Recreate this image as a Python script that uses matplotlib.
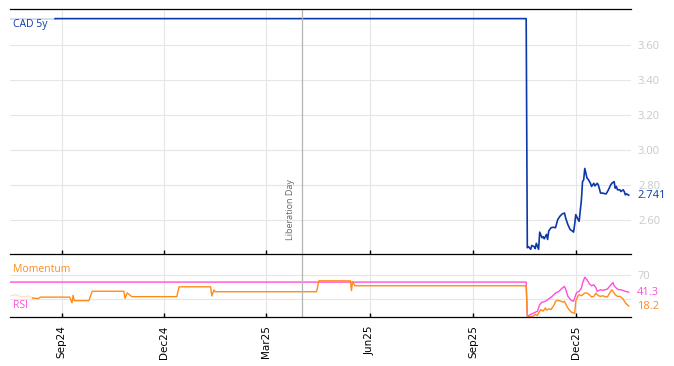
import pandas as pd
import matplotlib.pyplot as plt
import matplotlib.dates as mdates
import matplotlib.transforms as mtransforms

# CAD 5y yield
cad_dates = ['2024-07-17', '2024-08-26', '2025-10-18',
             '2025-10-19', '2025-10-20', '2025-10-22', '2025-10-23', '2025-10-25', '2025-10-26',
             '2025-10-27', '2025-10-29', '2025-10-30', '2025-11-01', '2025-11-02', '2025-11-03',
             '2025-11-05', '2025-11-06', '2025-11-07', '2025-11-09', '2025-11-11', '2025-11-13',
             '2025-11-15', '2025-11-17', '2025-11-19', '2025-11-21', '2025-11-22', '2025-11-24',
             '2025-11-26', '2025-11-28', '2025-11-29', '2025-11-30', '2025-12-01', '2025-12-03',
             '2025-12-04', '2025-12-06', '2025-12-07', '2025-12-08', '2025-12-09', '2025-12-11',
             '2025-12-12', '2025-12-14', '2025-12-15', '2025-12-17', '2025-12-18', '2025-12-20',
             '2025-12-21', '2025-12-23', '2025-12-25', '2025-12-27', '2025-12-28', '2025-12-30',
             '2026-01-01', '2026-01-02', '2026-01-04', '2026-01-05', '2026-01-06', '2026-01-07',
             '2026-01-09', '2026-01-10', '2026-01-12', '2026-01-13', '2026-01-14', '2026-01-15',
             '2026-01-17']
cad_values = [3.75, 3.75, 3.75,
              2.441, 2.447, 2.432, 2.454, 2.447, 2.436,
              2.466, 2.432, 2.530, 2.498, 2.504, 2.492,
              2.517, 2.488, 2.536, 2.555, 2.558, 2.555,
              2.602, 2.621, 2.634, 2.639, 2.611, 2.573,
              2.545, 2.536, 2.530, 2.573, 2.630, 2.602,
              2.592, 2.715, 2.819, 2.828, 2.894, 2.838,
              2.832, 2.809, 2.791, 2.809, 2.794, 2.809,
              2.800, 2.753, 2.753, 2.749, 2.749, 2.772,
              2.800, 2.809, 2.819, 2.781, 2.791, 2.772,
              2.772, 2.762, 2.772, 2.762, 2.743, 2.749,
              2.741]
cad_fade_until = '2024-08-26'

rsi_dates = ['2024-07-17', '2025-10-18',
             '2025-10-19', '2025-10-22', '2025-10-25', '2025-10-28', '2025-10-30', '2025-11-01',
             '2025-11-04', '2025-11-07', '2025-11-10', '2025-11-13', '2025-11-16', '2025-11-19',
             '2025-11-21', '2025-11-22', '2025-11-24', '2025-11-27', '2025-11-29', '2025-12-01',
             '2025-12-02', '2025-12-04', '2025-12-06', '2025-12-07', '2025-12-09', '2025-12-11',
             '2025-12-13', '2025-12-15', '2025-12-17', '2025-12-19', '2025-12-20', '2025-12-23',
             '2025-12-25', '2025-12-27', '2025-12-29', '2025-12-31', '2026-01-03', '2026-01-04',
             '2026-01-06', '2026-01-08', '2026-01-10', '2026-01-12', '2026-01-14', '2026-01-17']
rsi_values = [58, 58,
              1.4, 4.2, 6.9, 9.7, 20.6, 24.5,
              26.1, 30.0, 34.3, 39.8, 42.6, 48.1,
              50.8, 46.4, 34.3, 27.8, 26.1, 37.1,
              40.9, 42.6, 48.1, 56.3, 66.2, 61.8,
              55.2, 51.9, 53.5, 48.1, 42.6, 45.3,
              44.2, 45.3, 46.4, 50.8, 57.4, 51.9,
              48.1, 45.3, 45.3, 44.2, 42.6, 41.3]

mom_dates = ['2024-07-17', '2024-07-22', '2024-07-26', '2024-07-31', '2024-08-03', '2024-08-06',
             '2024-08-11', '2024-08-13', '2024-09-08', '2024-09-10', '2024-09-11', '2024-09-12',
             '2024-09-25', '2024-09-28', '2024-10-26', '2024-10-27', '2024-10-29', '2024-11-02',
             '2024-12-12', '2024-12-14', '2025-01-11', '2025-01-12', '2025-01-14', '2025-01-15',
             '2025-04-15', '2025-04-17', '2025-05-15', '2025-05-16', '2025-05-17', '2025-05-19',
             '2025-10-18',
             '2025-10-19', '2025-10-21', '2025-10-24', '2025-10-26', '2025-10-28', '2025-10-29',
             '2025-10-31', '2025-11-02', '2025-11-04', '2025-11-05', '2025-11-07', '2025-11-09',
             '2025-11-12', '2025-11-13', '2025-11-15', '2025-11-18', '2025-11-20', '2025-11-21',
             '2025-11-23', '2025-11-25', '2025-11-27', '2025-11-29', '2025-11-30', '2025-12-01',
             '2025-12-03', '2025-12-04', '2025-12-06', '2025-12-09', '2025-12-11', '2025-12-13',
             '2025-12-15', '2025-12-17', '2025-12-19', '2025-12-21', '2025-12-23', '2025-12-25',
             '2025-12-26', '2025-12-29', '2025-12-31', '2026-01-02', '2026-01-03', '2026-01-05',
             '2026-01-07', '2026-01-09', '2026-01-10', '2026-01-12', '2026-01-14', '2026-01-17']
mom_values = [35, 37, 34, 33.5, 35, 31.6,
              30.5, 33, 33, 23.4, 36, 27.2,
              27.2, 42.8, 42.8, 31, 40, 33.8,
              33.8, 50.2, 50.2, 35, 45, 42,
              42, 60.1, 60.1, 44, 59, 51.9,
              51.9,
              1.4, 0.3, 1.4, 4.2, 2.5, 6.9,
              12.4, 9.7, 15.1, 11.3, 13.5, 12.4,
              20.6, 26.1, 27.8, 26.1, 24.5, 26.1,
              17.9, 12.4, 8.0, 6.9, 5.8, 26.1,
              35.4, 37.1, 35.4, 39.8, 39.8, 37.1,
              33.2, 34.3, 39.8, 35.4, 34.3, 35.4,
              34.3, 33.2, 39.8, 45.3, 42.6, 37.1,
              34.3, 34.3, 33.2, 30.0, 23.4, 18.2]
mom_fade_until = '2024-08-06'

event_date = '2025-04-02'
event_label = 'Liberation Day'

blue = '#0b3aa8'
orange = '#ff8c1a'
magenta = '#ff4fd8'
gridc = '#e6e6e6'
labc = '#c8c8c8'

cad = pd.Series(cad_values, index=pd.to_datetime(cad_dates))
rsi = pd.Series(rsi_values, index=pd.to_datetime(rsi_dates))
mom = pd.Series(mom_values, index=pd.to_datetime(mom_dates))

fig = plt.figure(figsize=(6.74, 3.66), dpi=100)
ax2 = fig.add_axes([10 / 674, 1 - 317 / 366, 621 / 674, 62 / 366])
ax = fig.add_axes([10 / 674, 1 - 254 / 366, 621 / 674, 245 / 366], sharex=ax2)
ax.patch.set_alpha(0)

# top panel
c_f = cad[:cad_fade_until]
c_s = cad[cad_fade_until:]
ax.plot(c_f.index, c_f.values, color=blue, lw=1.2, alpha=0.2)
ax.plot(c_s.index, c_s.values, color=blue, lw=1.2)
ax.set_ylim(2.405, 3.805)
ax.set_yticks([2.6, 2.8, 3.0, 3.2, 3.4, 3.6])
ax.yaxis.set_major_formatter(plt.FormatStrFormatter('%.2f'))

# bottom panel
ax2.plot(rsi.index, rsi.values, color=magenta, lw=1.0)
m_f = mom[:mom_fade_until]
m_s = mom[mom_fade_until:]
ax2.plot(m_f.index, m_f.values, color=orange, lw=1.0, alpha=0.25)
ax2.plot(m_s.index, m_s.values, color=orange, lw=1.0)
ax2.set_ylim(0, 103)
ax2.set_yticks([30, 70])

for a in (ax, ax2):
    a.set_xlim(pd.Timestamp('2024-07-17'), pd.Timestamp('2026-01-19'))
    a.grid(True, color=gridc, lw=0.8)
    a.set_axisbelow(True)
    for s in ('left', 'right'):
        a.spines[s].set_visible(False)
    a.spines['top'].set_linewidth(0.9)
    a.spines['bottom'].set_linewidth(0.9)
    a.yaxis.tick_right()
    a.tick_params(axis='y', length=0, pad=5, labelsize=8, labelcolor=labc)
    a.tick_params(axis='x', direction='in', length=3, width=1)
    a.axvline(pd.Timestamp(event_date), color='#b4b4b4', lw=0.9)
    for lab in a.get_yticklabels():
        lab.set_fontfamily('Open Sans')
ax2.spines['top'].set_visible(False)

ax2.xaxis.set_major_locator(mdates.MonthLocator(bymonth=[3, 6, 9, 12]))
ax2.xaxis.set_major_formatter(mdates.DateFormatter('%b%y'))
plt.setp(ax.get_xticklabels(), visible=False)
ax2.tick_params(axis='x', labelrotation=90, labelsize=7.5, pad=6)

ax.annotate(event_label, xy=(pd.Timestamp(event_date), 0), xycoords=('data', 'axes fraction'),
            xytext=(-8, 10), textcoords='offset points', rotation=90, ha='center', va='bottom',
            fontsize=6.5, color='#666666', family='Open Sans')

# labels
ax.text(0.005, 0.935, 'CAD 5y', transform=ax.transAxes, color=blue, fontsize=7.5,
        family='Open Sans', va='center')
ax2.text(0.005, 0.77, 'Momentum', transform=ax2.transAxes, color=orange, fontsize=7.5,
         family='Open Sans', va='center')
ax2.text(0.005, 0.18, 'RSI', transform=ax2.transAxes, color=magenta, fontsize=7.5,
         family='Open Sans', va='center')

box = dict(facecolor='white', edgecolor='none', pad=0.8)
tr = mtransforms.blended_transform_factory(ax.transAxes, ax.transData)
ax.text(1.01, cad.iloc[-1], f'{cad.iloc[-1]:.3f}', transform=tr, color=blue, fontsize=8,
        family='Open Sans', va='center', bbox=box)
tr2 = mtransforms.blended_transform_factory(ax2.transAxes, ax2.transData)
ax2.text(1.01, rsi.iloc[-1], f'{rsi.iloc[-1]:.1f}', transform=tr2, color=magenta, fontsize=8,
         family='Open Sans', va='center', bbox=box)
ax2.text(1.01, mom.iloc[-1], f'{mom.iloc[-1]:.1f}', transform=tr2, color=orange, fontsize=8,
         family='Open Sans', va='center', bbox=box)

fig.savefig('out.png', dpi=100)
